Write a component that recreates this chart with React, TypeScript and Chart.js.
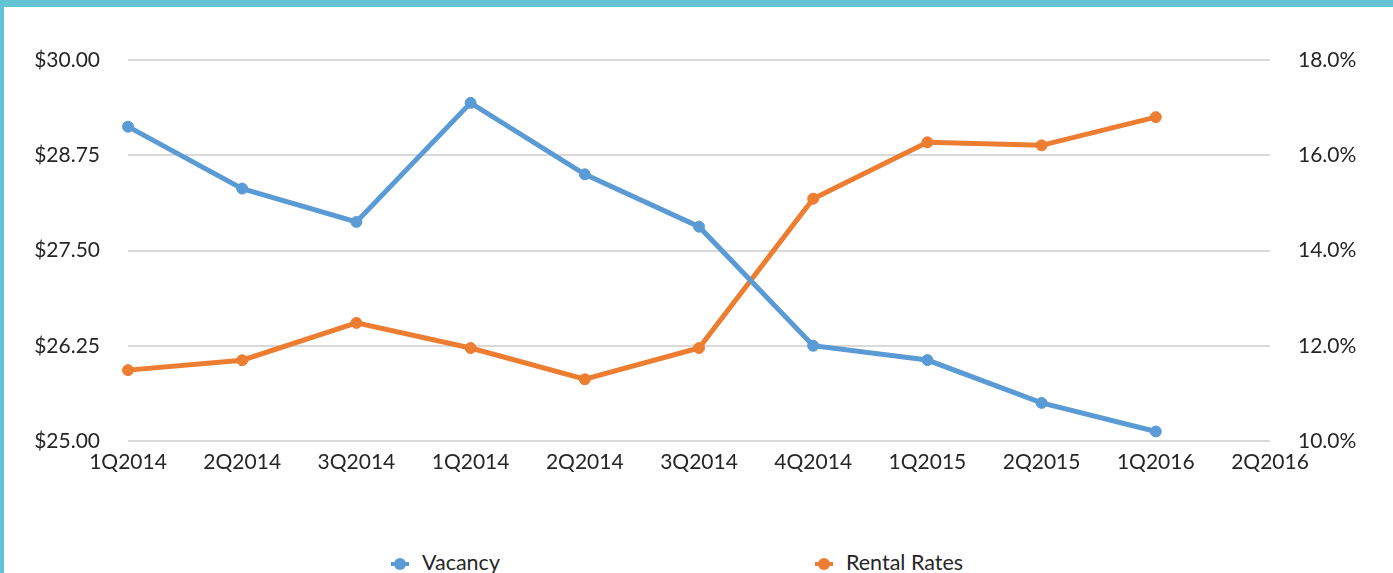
import React, { useEffect, useRef } from "react";
import { Chart, registerables } from "chart.js";

Chart.register(...registerables);

const categories = [
  "1Q2014", "2Q2014", "3Q2014", "1Q2014", "2Q2014", "3Q2014",
  "4Q2014", "1Q2015", "2Q2015", "1Q2016", "2Q2016",
];
const vacancy = [16.6, 15.3, 14.6, 17.1, 15.6, 14.5, 12.0, 11.7, 10.8, 10.2];
const rentalRates = [25.93, 26.06, 26.55, 26.22, 25.81, 26.22, 28.18, 28.92, 28.88, 29.25];
const seriesNames = ["Vacancy", "Rental Rates"];
const seriesColors = ["#5B9BD5", "#ED7D31"];
const leftTicks = { min: 25, max: 30, step: 1.25 };
const rightTicks = { min: 10, max: 18, step: 2 };

const FONT = "Lato, 'Liberation Sans', sans-serif";
const W = 1393;
const CH = 490;

export default function App() {
  const ref = useRef<HTMLCanvasElement | null>(null);

  useEffect(() => {
    if (!ref.current) return;
    const chart = new Chart(ref.current, {
      type: "line",
      data: {
        labels: categories,
        datasets: [
          {
            label: seriesNames[0],
            data: vacancy,
            yAxisID: "yR",
            borderColor: seriesColors[0],
            backgroundColor: seriesColors[0],
            borderWidth: 5,
            pointRadius: 5.5,
            pointBorderWidth: 1,
            tension: 0,
          },
          {
            label: seriesNames[1],
            data: rentalRates,
            yAxisID: "yL",
            borderColor: seriesColors[1],
            backgroundColor: seriesColors[1],
            borderWidth: 5,
            pointRadius: 5.5,
            pointBorderWidth: 1,
            tension: 0,
          },
        ],
      },
      options: {
        responsive: false,
        animation: false,
        layout: { padding: { top: 60, left: 0, right: 0, bottom: 0 } },
        plugins: { legend: { display: false }, tooltip: { enabled: false } },
        scales: {
          x: {
            offset: false,
            grid: { display: false },
            border: { display: false },
            ticks: {
              color: "#262626",
              font: { family: FONT, size: 21 },
              padding: 1,
              maxRotation: 0,
              autoSkip: false,
            },
            afterFit: (s: any) => { s.height = CH - 441; },
          },
          yL: {
            position: "left",
            min: leftTicks.min,
            max: leftTicks.max,
            grid: { color: "#D9D9D9", lineWidth: 2, drawTicks: false },
            border: { display: false },
            ticks: {
              stepSize: leftTicks.step,
              color: "#262626",
              font: { family: FONT, size: 21 },
              padding: 28,
              callback: (v: any) => "$" + Number(v).toFixed(2),
            },
            afterFit: (s: any) => { s.width = 128; },
          },
          yR: {
            position: "right",
            min: rightTicks.min,
            max: rightTicks.max,
            grid: { drawOnChartArea: false, drawTicks: false },
            border: { display: false },
            ticks: {
              stepSize: rightTicks.step,
              color: "#262626",
              font: { family: FONT, size: 21 },
              padding: 28,
              callback: (v: any) => Number(v).toFixed(1) + "%",
            },
            afterFit: (s: any) => { s.width = W - 1270; },
          },
        },
      },
    });
    return () => chart.destroy();
  }, []);

  const legendCenters = [400, 824];

  return (
    <div
      style={{
        position: "absolute",
        left: 0,
        top: 0,
        width: W,
        height: 573,
        overflow: "hidden",
        background: "#fff",
        boxSizing: "border-box",
        borderTop: "7px solid #63C3D3",
        borderLeft: "4px solid #63C3D3",
      }}
    >
      <canvas
        ref={ref}
        width={W}
        height={CH}
        style={{ position: "absolute", left: -4, top: -7, width: W, height: CH }}
      />
      {seriesNames.map((name, i) => (
        <div
          key={name}
          style={{
            position: "absolute",
            left: legendCenters[i] - 9 - 4,
            top: 548 - 7,
            display: "flex",
            alignItems: "center",
            fontFamily: FONT,
            fontSize: 21.5,
            color: "#262626",
            whiteSpace: "nowrap",
            lineHeight: "28px",
          }}
        >
          <span
            style={{
              position: "relative",
              display: "inline-block",
              width: 18,
              height: 12,
              marginRight: 13,
              top: 2,
            }}
          >
            <span
              style={{
                position: "absolute",
                left: 0,
                top: 4,
                width: 18,
                height: 4,
                background: seriesColors[i],
              }}
            />
            <span
              style={{
                position: "absolute",
                left: 3,
                top: 0,
                width: 12,
                height: 12,
                borderRadius: 6,
                background: seriesColors[i],
              }}
            />
          </span>
          <span>{name}</span>
        </div>
      ))}
    </div>
  );
}
